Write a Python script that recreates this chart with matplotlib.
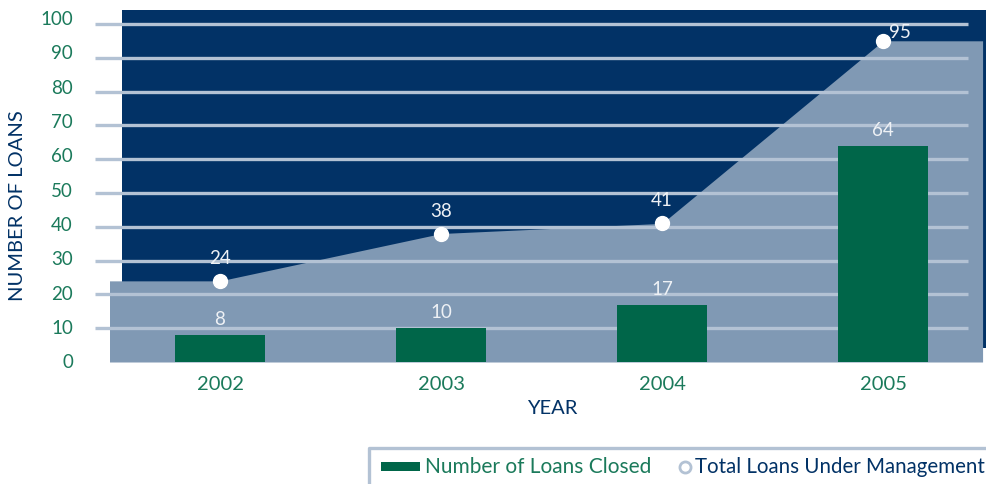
import numpy as np
import matplotlib.pyplot as plt
from matplotlib.patches import Rectangle
from matplotlib.lines import Line2D

years = ['2002', '2003', '2004', '2005']
loans_closed = [8, 10, 17, 64]
loans_managed = [24, 38, 41, 95]
yticks = [0, 10, 20, 30, 40, 50, 60, 70, 80, 90, 100]

NAVY = '#023266'
AREA = '#8099b4'
GRID = '#b3c2d4'
BAR = '#006649'
GREEN_TXT = '#1b7a5b'
LABEL = '#eef1f5'

plt.rcParams['font.family'] = ['Lato', 'DejaVu Sans']

W, H = 987, 484
def fx(px):
    return px / W
def fy(py):
    return 1 - py / H

fig = plt.figure(figsize=(W / 100, H / 100), dpi=100)
ax = fig.add_axes([fx(87.4), fy(362), fx(987) - fx(87.4), fy(8) - fy(362)])
x = np.arange(len(years))
ax.set_xlim(-0.6, 3.47)
ax.set_ylim(0, 104.7)

# navy backdrop and the grey-blue "total" area
ax.add_patch(Rectangle((-0.445, 4.1), 4.0, 100, color=NAVY, lw=0, zorder=0))
xs = np.concatenate(([-0.5], x, [3.45]))
ys = [loans_managed[0]] + loans_managed + [loans_managed[-1]]
ax.fill_between(xs, ys, 0, color=AREA, lw=0, zorder=1)

ax.hlines(yticks[1:], -0.566, 3.385, color=GRID, lw=2.4, zorder=2)

ax.bar(x, loans_closed, width=0.41, color=BAR, zorder=3)
ax.plot(x, loans_managed, 'o', ms=10, color='white', ls='none', zorder=4)

for i, v in enumerate(loans_closed):
    ax.annotate(str(v), (x[i], v), xytext=(0, 5), textcoords='offset points',
                ha='center', va='bottom', color=LABEL, fontsize=13.5, zorder=5)
for i, v in enumerate(loans_managed):
    off = (0, 10) if i < len(x) - 1 else (12, 0)
    ax.annotate(str(v), (x[i], v), xytext=off, textcoords='offset points',
                ha='center', va='bottom', color=LABEL, fontsize=13.5, zorder=5)

for s in ax.spines.values():
    s.set_visible(False)
ax.set_yticks([])
ax.set_xticks(x, years)
ax.tick_params(axis='x', length=0, pad=10, labelsize=14.5, labelcolor=GREEN_TXT)

# y tick labels sit on a slightly different scale than the gridlines
lab = fig.add_axes(ax.get_position(), frameon=False)
lab.set_ylim(-0.15, 102.9)
lab.set_yticks(yticks)
lab.set_xticks([])
lab.patch.set_visible(False)
lab.tick_params(axis='y', length=0, pad=10.4, labelsize=13.5, labelcolor=GREEN_TXT)

fig.text(fx(18), fy(206), 'NUMBER OF LOANS', rotation=90, color=NAVY, fontsize=14.5,
         ha='center', va='center')
fig.text(fx(552), fy(408), 'YEAR', color=NAVY, fontsize=14.5, ha='center', va='center')

# legend
fig.add_artist(Line2D([fx(369), fx(369), fx(995)], [fy(495), fy(448), fy(448)],
                      color=GRID, lw=2.4))
fig.add_artist(Rectangle((fx(381), fy(471)), fx(420) - fx(381), fy(462) - fy(471),
                         color=BAR, lw=0))
fig.text(fx(425), fy(467), 'Number of Loans Closed', color=GREEN_TXT, fontsize=15,
         va='center')
fig.add_artist(Line2D([fx(685)], [fy(467)], marker='o', ms=8, mfc='white', mec=GRID,
                      mew=2))
fig.text(fx(695), fy(467), 'Total Loans Under Management', color=NAVY, fontsize=14.8,
         va='center')

plt.savefig('out.png', dpi=100)
